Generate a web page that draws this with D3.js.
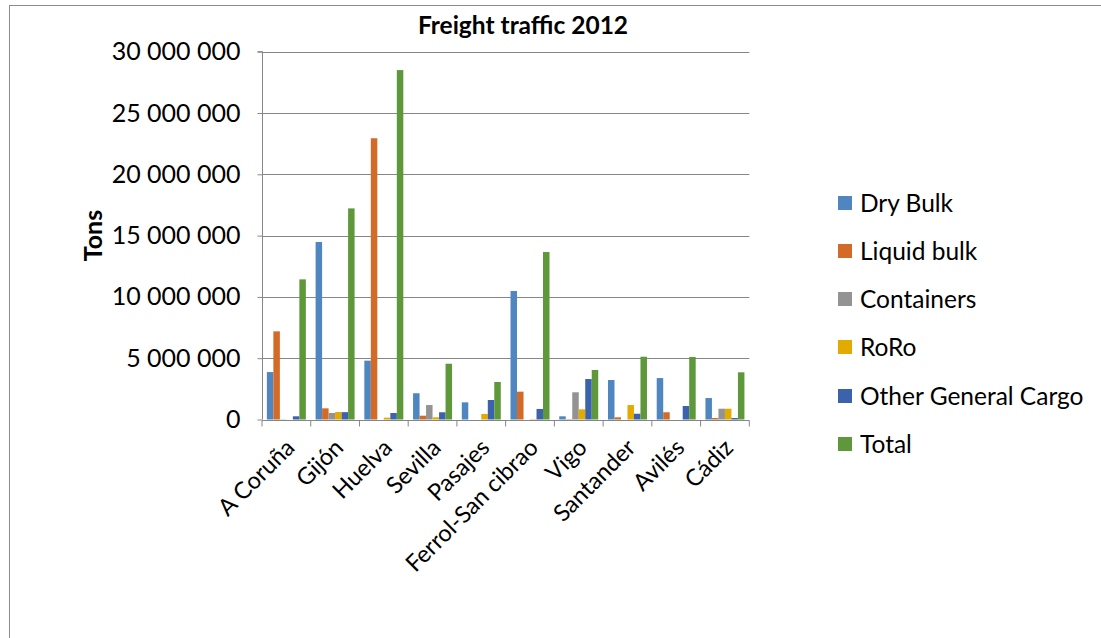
<!DOCTYPE html>
<html>
<head>
<meta charset="utf-8">
<script src="https://cdn.jsdelivr.net/npm/d3@7/dist/d3.min.js"></script>
<style>
  html, body { margin: 0; padding: 0; background: #fff; }
  svg { display: block; font-family: Lato, "Open Sans", sans-serif; }
</style>
</head>
<body>
<svg id="chart" width="1101" height="638"></svg>
<script>
const categories = ["A Coruña", "Gijón", "Huelva", "Sevilla", "Pasajes", "Ferrol-San cibrao", "Vigo", "Santander", "Avilés", "Cádiz"];
const seriesNames = ["Dry Bulk", "Liquid bulk", "Containers", "RoRo", "Other General Cargo", "Total"];
const dryBulk      = [3870000, 14480000, 4800000, 2140000, 1400000, 10480000, 260000, 3220000, 3380000, 1750000];
const liquidBulk   = [7190000, 910000, 22940000, 310000, 0, 2270000, 30000, 180000, 590000, 120000];
const containers   = [20000, 530000, 0, 1180000, 0, 0, 2220000, 0, 0, 880000];
const roro         = [0, 610000, 150000, 180000, 450000, 30000, 830000, 1180000, 0, 880000];
const otherGeneral = [260000, 600000, 530000, 590000, 1590000, 860000, 3300000, 470000, 1100000, 120000];
const total        = [11430000, 17220000, 28500000, 4550000, 3060000, 13660000, 4040000, 5120000, 5100000, 3850000];
const yTicks = [0, 5000000, 10000000, 15000000, 20000000, 25000000, 30000000];
const colors = ["#4F86BF", "#D46A27", "#939393", "#E3AA00", "#3D62AD", "#5F983A"];

const seriesValues = [dryBulk, liquidBulk, containers, roro, otherGeneral, total];

const svg = d3.select("#chart");

// outer chart border
svg.append("rect")
  .attr("x", 9.5).attr("y", 5.5)
  .attr("width", 1120).attr("height", 700)
  .attr("fill", "#fff").attr("stroke", "#8c8c8c").attr("stroke-width", 1);

const pLeft = 262, pRight = 749.3, pTop = 51.7, pBottom = 419.5;

const x0 = d3.scaleBand().domain(categories).range([pLeft, pRight]).padding(0);
const x1 = d3.scaleBand().domain(seriesNames).range([0, x0.bandwidth()])
  .paddingInner(0).paddingOuter(0.75);
const y = d3.scaleLinear().domain([0, 30000000]).range([pBottom, pTop]);

const fmt = v => d3.format(",")(v).replace(/,/g, " ");

// gridlines
svg.append("g").selectAll("line").data(yTicks.filter(d => d > 0)).join("line")
  .attr("x1", pLeft).attr("x2", pRight)
  .attr("y1", d => Math.round(y(d)) + 0.5).attr("y2", d => Math.round(y(d)) + 0.5)
  .attr("stroke", "#868686").attr("stroke-width", 1);

// bars
const groups = svg.append("g").selectAll("g").data(categories).join("g")
  .attr("transform", c => `translate(${x0(c)},0)`);
groups.selectAll("rect")
  .data((c, i) => seriesNames.map((s, j) => ({ s, j, v: seriesValues[j][i] })))
  .join("rect")
  .attr("x", d => x1(d.s))
  .attr("width", x1.bandwidth())
  .attr("y", d => y(d.v))
  .attr("height", d => pBottom - y(d.v))
  .attr("fill", d => colors[d.j]);

// y axis
const yAxis = d3.axisLeft(y).tickValues(yTicks).tickFormat(fmt).tickSize(5).tickPadding(17);
const gy = svg.append("g").attr("transform", `translate(${pLeft + 0.5},0)`).call(yAxis);
gy.select(".domain").attr("stroke", "#868686").attr("d", `M-5,${pTop}H0V${pBottom}`);
gy.selectAll(".tick line").attr("stroke", "#868686");
gy.selectAll(".tick text").attr("font-size", 25).attr("font-family", "Lato, sans-serif").attr("fill", "#000");

// x axis
const gx = svg.append("g").attr("transform", `translate(0,${Math.round(pBottom) + 0.5})`);
gx.append("line").attr("x1", pLeft).attr("x2", pRight).attr("stroke", "#868686");
gx.selectAll("line.tk").data(d3.range(categories.length + 1)).join("line").attr("class", "tk")
  .attr("x1", i => pLeft + i * x0.step()).attr("x2", i => pLeft + i * x0.step())
  .attr("y1", 0).attr("y2", 6).attr("stroke", "#868686");
gx.selectAll("text").data(categories).join("text")
  .attr("transform", c => `translate(${x0(c) + x0.bandwidth() / 2 - 2},${17}) rotate(-45)`)
  .attr("text-anchor", "end")
  .attr("dy", "0.7em")
  .attr("font-size", 23.5)
  .attr("fill", "#000")
  .text(c => c);

// title
svg.append("text").attr("x", 523).attr("y", 34).attr("text-anchor", "middle")
  .attr("font-size", 24.5).attr("font-weight", "bold").attr("fill", "#000")
  .text("Freight traffic 2012");

// y label
svg.append("text").attr("transform", `translate(102,${(pTop + pBottom) / 2}) rotate(-90)`)
  .attr("text-anchor", "middle").attr("font-size", 25).attr("font-weight", "bold").attr("fill", "#000")
  .text("Tons");

// legend
const legendY = [203, 251, 299, 347, 396, 444];
const lg = svg.append("g").selectAll("g").data(seriesNames).join("g")
  .attr("transform", (s, i) => `translate(838,${legendY[i]})`);
lg.append("rect").attr("x", 0).attr("y", -7).attr("width", 14).attr("height", 14)
  .attr("fill", (s, i) => colors[i]);
lg.append("text").attr("x", 22).attr("dy", "0.36em").attr("font-size", 24.5).attr("fill", "#000")
  .text(s => s);
</script>
</body>
</html>
